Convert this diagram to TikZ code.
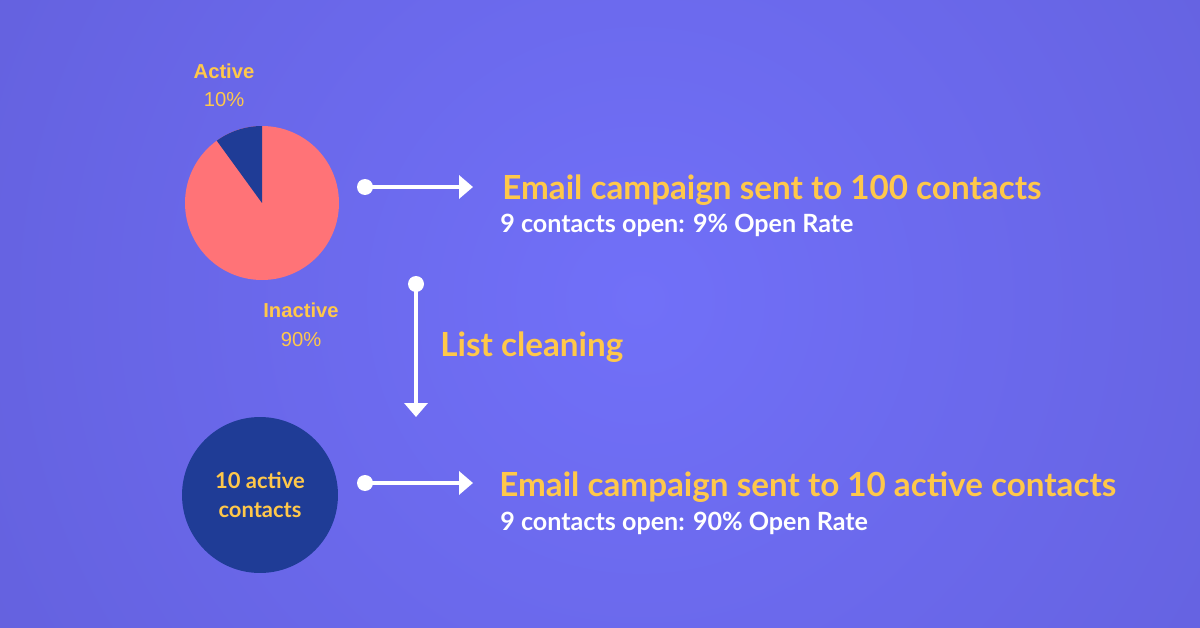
\documentclass[tikz,border=0pt]{standalone}
\usepackage{fontspec}
\setmainfont{Lato}
\newfontfamily\arialfont{Liberation Sans}
\usetikzlibrary{arrows.meta, positioning, shapes.geometric, calc}
\definecolor{cbgin}{HTML}{7170F8}
\definecolor{cbgout}{HTML}{5853C6}
\definecolor{cyellow}{HTML}{FFC84A}
\definecolor{cnavy}{HTML}{1F3C96}
\definecolor{csalmon}{HTML}{FF7377}
\tikzset{
  every picture/.style={x=0.02cm, y=-0.02cm},
  head/.style={font=\fontsize{18.9}{21}\selectfont\bfseries, text=cyellow, anchor=west, inner sep=0pt},
  sub/.style={font=\fontsize{14.3}{16}\selectfont\bfseries, text=white, anchor=west, inner sep=0pt},
  pielabel/.style={font=\arialfont\fontsize{11.5}{13}\selectfont\bfseries, text=cyellow, inner sep=0pt},
  pievalue/.style={font=\arialfont\fontsize{11.5}{13}\selectfont, text=cyellow, inner sep=0pt},
  dot/.style={circle, fill=white, inner sep=0pt, minimum size=0.32cm},
  arrow/.style={-{Triangle[length=0.28cm, width=0.46cm]}, draw=white, line width=0.08cm},
}

\begin{document}
\begin{tikzpicture}
  % background
  \useasboundingbox (0,0) rectangle (1200,628);
  \begin{scope}
    \clip (0,0) rectangle (1200,628);
    \shade[inner color=cbgin, outer color=cbgout] (640,300) circle[radius=1440];
  \end{scope}
  % pie: 90% inactive, 10% active
  \coordinate (pie) at (262,203);
  \fill[csalmon] (pie) circle[radius=77];
  \fill[cnavy] (pie) -- ++(0,-77) arc[start angle=-90, end angle=-126, radius=77] -- cycle;
  \node[pielabel] (lactive) at (224,71) {Active};
  \node[pievalue] (vactive) at (224,100) {10\%};
  \node[pielabel] (linactive) at (301,310) {Inactive};
  \node[pievalue] (vinactive) at (301,340) {90\%};
  % active contacts circle
  \node[circle, fill=cnavy, minimum size=3.12cm, inner sep=0pt, align=center,
        text=cyellow, font=\fontsize{12.5}{16.5}\selectfont\bfseries] (active) at (260,495) {10 active\\contacts};
  % arrows
  \node[dot] (d1) at (365,187) {};
  \coordinate (t1) at (473,187);
  \draw[arrow] (d1.center) -- (t1);
  \node[dot] (d2) at (416,284) {};
  \coordinate (t2) at (416,417);
  \draw[arrow] (d2.center) -- (t2);
  \node[dot] (d3) at (365,483) {};
  \coordinate (t3) at (473,483);
  \draw[arrow] (d3.center) -- (t3);
  % texts
  \node[head] (h1) at (502,190) {Email campaign sent to 100 contacts};
  \node[sub] (s1) at (500,225) {9 contacts open: 9\% Open Rate};
  \node[head] (clean) at (440,347) {List cleaning};
  \node[head] (h2) at (499,487) {Email campaign sent to 10 active contacts};
  \node[sub] (s2) at (500,523) {9 contacts open: 90\% Open Rate};
\end{tikzpicture}
\end{document}
